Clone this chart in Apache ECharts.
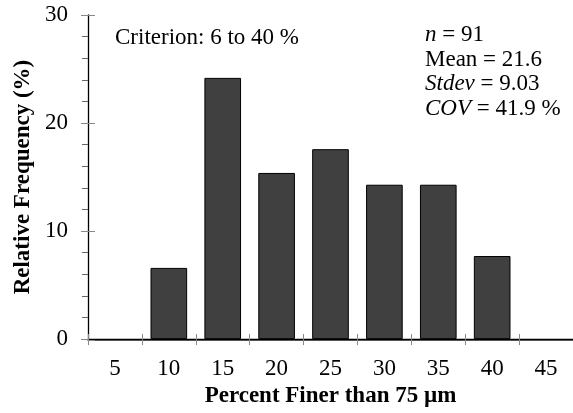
<!DOCTYPE html>
<html><head><meta charset="utf-8">
<script src="https://cdn.jsdelivr.net/npm/echarts@6/dist/echarts.min.js"></script>
<style>html,body{margin:0;padding:0;background:#fff}#c{width:573px;height:413px}</style>
</head><body><div id="c"></div>
<script>
var categories = ['5','10','15','20','25','30','35','40','45'];
var frequency = [null, 6.59, 24.18, 15.38, 17.58, 14.29, 14.29, 7.69, null];
var yTicks = [0, 10, 20, 30];
var xTitle = 'Percent Finer than 75 µm';
var yTitle = 'Relative Frequency (%)';
var criterion = 'Criterion: 6 to 40 %';
var statLines = ['{i|n} = 91', 'Mean = 21.6', '{i|Stdev} = 9.03', '{i|COV} = 41.9 %'];

var F = 'Liberation Serif';
var FS = 23;
var chart = echarts.init(document.getElementById('c'), null, {renderer:'canvas'});
var gridPos = {left: 88, right: 0, top: 15, bottom: 73};
var option = {
  animation: false,
  backgroundColor: '#fff',
  grid: [Object.assign({}, gridPos), Object.assign({}, gridPos), Object.assign({}, gridPos)],
  xAxis: [
    {type:'category', data: categories, gridIndex:0, position:'bottom', boundaryGap:true,
     axisLine:{show:true, lineStyle:{color:'#000', width:1.3}},
     axisTick:{show:true, inside:false, length:6, lineStyle:{color:'#888'}},
     axisLabel:{fontFamily:F, fontSize:FS, color:'#000', margin:18},
     name: xTitle, nameLocation:'middle', nameGap:45,
     nameTextStyle:{fontFamily:F, fontSize:FS, fontWeight:'bold', color:'#000'}},
    {type:'category', data: categories, gridIndex:1, position:'bottom', boundaryGap:true,
     axisLine:{show:false}, axisTick:{show:true, inside:true, length:6, lineStyle:{color:'#888'}},
     axisLabel:{show:false}},
    {type:'category', data: categories, gridIndex:2, position:'top',
     axisLine:{show:true, lineStyle:{color:'#555', width:1.2}}, axisTick:{show:false}, axisLabel:{show:false}}
  ],
  yAxis: [
    {type:'value', gridIndex:0, min: yTicks[0], max: yTicks[yTicks.length-1], interval:10,
     axisLine:{show:true, lineStyle:{color:'#000', width:1.3}},
     axisTick:{show:true, inside:false, length:7, lineStyle:{color:'#888'}},
     minorTick:{show:true, splitNumber:5, length:6, lineStyle:{color:'#666'}},
     splitLine:{show:false},
     axisLabel:{fontFamily:F, fontSize:FS, color:'#000', margin:20},
     name: yTitle, nameLocation:'middle', nameGap:50, nameRotate:90,
     nameTextStyle:{fontFamily:F, fontSize:FS, fontWeight:'bold', color:'#000'}},
    {type:'value', gridIndex:1, min: yTicks[0], max: yTicks[yTicks.length-1], interval:10,
     axisLine:{show:false}, axisTick:{show:true, inside:true, length:7, lineStyle:{color:'#888'}},
     splitLine:{show:false}, axisLabel:{show:false}},
    {type:'value', gridIndex:2, min:0, max:30, show:false}
  ],
  series: [{
    type:'bar', xAxisIndex:0, yAxisIndex:0, data: frequency, barWidth:'68%',
    itemStyle:{color:'#404040', borderColor:'#000', borderWidth:1}
  }],
  graphic: [
    {type:'text', x:115, y:38, style:{text: criterion, fontFamily:F, fontSize:FS, fill:'#000', verticalAlign:'middle'}}
  ].concat(statLines.map(function(t, i){
    return {type:'text', x:425, y: 35 + i*24.5, style:{text:t, fontFamily:F, fontSize:FS, fill:'#000', verticalAlign:'middle',
      rich:{i:{fontStyle:'italic', fontFamily:F, fontSize:FS, fill:'#000'}}}};
  }))
};
chart.setOption(option);
</script></body></html>
